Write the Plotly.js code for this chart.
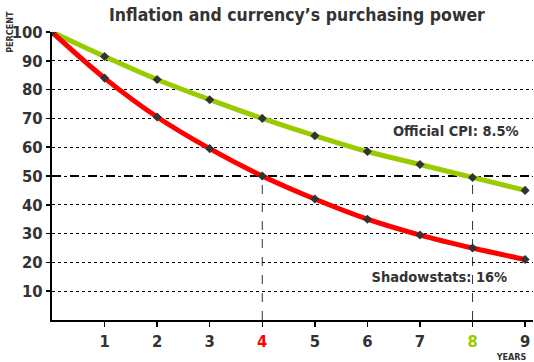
<!DOCTYPE html>
<html>
<head>
<meta charset="utf-8">
<script src="https://cdn.plot.ly/plotly-3.0.1.min.js"></script>
<style>
html,body{margin:0;padding:0;background:#fff;}
#chart{width:534px;height:362px;}
#chart text{font-stretch:condensed;}
</style>
</head>
<body>
<div id="chart"></div>
<script>
var years = [0, 1, 2, 3, 4, 5, 6, 7, 8, 9];
var officialCPI = [100, 91.5, 83.5, 76.5, 70, 64, 58.5, 54, 49.5, 45];
var shadowstats = [100, 84, 70.5, 59.5, 50, 42, 35, 29.5, 25, 21];
var xTickVals = [1, 2, 3, 4, 5, 6, 7, 8, 9];
var xTickText = ['1', '2', '3', '<span style="color:#ff0000">4</span>', '5', '6', '7', '<span style="color:#99cc00">8</span>', '9'];
var yTickVals = [10, 20, 30, 40, 50, 60, 70, 80, 90, 100];
var halfLevel = 50;
var halfYears = [4, 8];

var FONT = '"DejaVu Sans", Arial, sans-serif';
var TXT = '#333333';

var traces = [
  {x: years, y: officialCPI, mode: 'lines+markers', line: {color: '#99cc00', width: 5, shape: 'spline'},
   marker: {symbol: 'diamond', size: 7, color: '#333333'}, hoverinfo: 'skip'},
  {x: years, y: shadowstats, mode: 'lines+markers', line: {color: '#ff0000', width: 5, shape: 'spline'},
   marker: {symbol: 'diamond', size: 7, color: '#333333'}, hoverinfo: 'skip'}
];

var shapes = [{type: 'line', xref: 'paper', x0: 0, x1: 1, yref: 'y', y0: halfLevel, y1: halfLevel,
  line: {color: '#000', width: 2, dash: 'dash'}, layer: 'below'}];
halfYears.forEach(function (yr) {
  shapes.push({type: 'line', xref: 'x', x0: yr, x1: yr, yref: 'y', y0: 0, y1: halfLevel,
    line: {color: '#333', width: 1, dash: 'dash'}, layer: 'below'});
});

var layout = {
  width: 534, height: 362,
  margin: {l: 52, r: 1, t: 32, b: 42},
  paper_bgcolor: '#fff', plot_bgcolor: '#fff',
  showlegend: false,
  title: {text: 'Inflation and currency\u2019s purchasing power', xref: 'container', x: 0.556, xanchor: 'center',
    yref: 'container', y: 0.958, yanchor: 'middle',
    font: {family: FONT, size: 17.5, color: TXT, weight: 'bold'}},
  xaxis: {range: [0, 9.15], tickvals: xTickVals, ticktext: xTickText, showgrid: false, zeroline: false,
    showline: true, linecolor: '#000', linewidth: 2, ticks: 'outside', ticklen: 5, tickwidth: 1.5, tickcolor: '#000',
    tickfont: {family: FONT, size: 16.5, color: TXT, weight: 'bold'}, fixedrange: true},
  yaxis: {range: [0, 100], tickvals: yTickVals, showgrid: true, gridcolor: '#000', gridwidth: 1, griddash: 'dot',
    zeroline: false, showline: true, linecolor: '#000', linewidth: 2, ticks: 'outside', ticklen: 4, tickwidth: 1.5,
    tickcolor: '#000', tickfont: {family: FONT, size: 16.5, color: TXT, weight: 'bold'}, fixedrange: true},
  shapes: shapes,
  annotations: [
    {text: 'PERCENT', xref: 'paper', yref: 'paper', x: -0.087, y: 1.0, xanchor: 'center', yanchor: 'middle', textangle: -90,
     showarrow: false, font: {family: FONT, size: 9, color: TXT, weight: 'bold'}},
    {text: 'YEARS', xref: 'paper', yref: 'paper', x: 0.955, y: -0.127, xanchor: 'center', yanchor: 'middle',
     showarrow: false, font: {family: FONT, size: 9, color: TXT, weight: 'bold'}},
    {text: 'Official CPI: 8.5%', xref: 'x', yref: 'y', x: 7.68, y: 65.6, xanchor: 'center', yanchor: 'middle',
     showarrow: false, font: {family: FONT, size: 14.5, color: TXT, weight: 'bold'}},
    {text: 'Shadowstats: 16%', xref: 'x', yref: 'y', x: 7.38, y: 14.9, xanchor: 'center', yanchor: 'middle',
     showarrow: false, font: {family: FONT, size: 14.5, color: TXT, weight: 'bold'}}
  ]
};

Plotly.newPlot('chart', traces, layout, {displayModeBar: false, staticPlot: true});
</script>
</body>
</html>
